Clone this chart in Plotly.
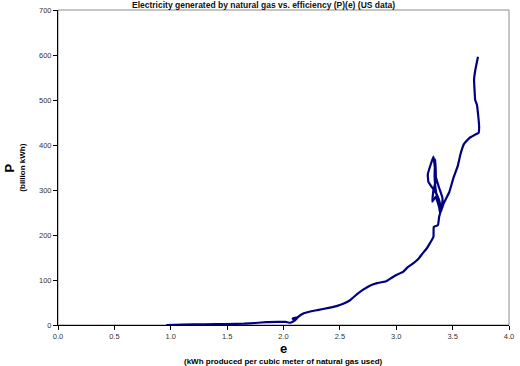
import plotly.graph_objects as go

# Efficiency of gas-fired generation (kWh per cubic meter) and generation (billion kWh), in time order
e_vals = [0.96, 1.10, 1.30, 1.50, 1.65, 1.75, 1.85, 1.95, 2.02, 2.06, 2.10, 2.08, 2.12, 2.10,
          2.13, 2.18, 2.23, 2.30, 2.40, 2.47, 2.53, 2.59, 2.65, 2.71, 2.77, 2.83, 2.91, 2.96,
          3.00, 3.06, 3.10, 3.15, 3.20, 3.23, 3.27, 3.29, 3.33, 3.333, 3.37, 3.38,
          3.40, 3.41, 3.38, 3.35, 3.34, 3.33, 3.31, 3.28, 3.285, 3.32, 3.36, 3.39, 3.395,
          3.37, 3.35, 3.34, 3.345, 3.35, 3.35, 3.33, 3.32, 3.35, 3.38, 3.39,
          3.42, 3.47, 3.51, 3.545, 3.57, 3.60, 3.65, 3.70, 3.73, 3.735, 3.725, 3.715, 3.70,
          3.695, 3.69, 3.70, 3.725]
p_vals = [0, 1, 1.5, 2, 3, 4.5, 6.5, 7, 7, 5, 10, 14, 17, 10,
          18, 26, 29.5, 33, 38, 42, 47, 55, 68, 79, 88, 93, 97, 105,
          111, 118, 128, 137, 148, 158, 170, 178, 196, 218, 222, 240,
          258, 282, 305, 330, 355, 374, 360, 335, 318, 305, 290, 268, 252,
          275, 300, 330, 368, 345, 320, 300, 274, 285, 262, 248,
          270, 295, 329, 353, 380, 402, 416, 423, 427, 440, 470, 490, 500,
          520, 545, 565, 596]

x_ticks = [0.0, 0.5, 1.0, 1.5, 2.0, 2.5, 3.0, 3.5, 4.0]
y_ticks = [0, 100, 200, 300, 400, 500, 600, 700]

FONT = "Liberation Sans, Arial, sans-serif"

fig = go.Figure()
fig.add_trace(go.Scatter(
    x=e_vals, y=p_vals, mode="lines",
    line=dict(color="#000080", width=2.2, shape="spline", smoothing=0.3),
    hoverinfo="skip", showlegend=False,
))

fig.update_layout(
    width=520, height=366,
    margin=dict(l=58, r=6, t=10, b=41),
    paper_bgcolor="white", plot_bgcolor="white",
    font=dict(family=FONT, color="#222"),
    xaxis=dict(
        range=[0, 4], tickvals=x_ticks, ticktext=[f"{v:.1f}" for v in x_ticks],
        showgrid=False, zeroline=False, showline=True, linecolor="black", linewidth=1,
        ticks="outside", ticklen=4, tickcolor="black", tickfont=dict(size=7.5, family=FONT, color="#333"),
    ),
    yaxis=dict(
        range=[0, 700], tickvals=y_ticks,
        showgrid=False, zeroline=False, showline=True, linecolor="black", linewidth=1,
        ticks="outside", ticklen=4, tickcolor="black", tickfont=dict(size=7.5, family=FONT, color="#333"),
    ),
    shapes=[dict(type="rect", xref="paper", yref="paper", x0=0, x1=1, y0=0, y1=1,
                 line=dict(color="#8c8c8c", width=1), layer="below")],
    annotations=[
        dict(text="<b>Electricity generated by natural gas vs. efficiency (P)(e) (US data)</b>",
             xref="paper", yref="paper", x=0.455, y=1.0, yshift=5, showarrow=False,
             xanchor="center", yanchor="middle", font=dict(size=8.5, family=FONT, color="#111")),
        dict(text="<b>e</b>", xref="paper", yref="paper", x=0.5, y=-0.075, showarrow=False,
             xanchor="center", yanchor="middle", font=dict(size=13, family=FONT, color="black")),
        dict(text="<b>(kWh produced per cubic meter of natural gas used)</b>", xref="paper", yref="paper",
             x=0.5, y=-0.115, showarrow=False, xanchor="center", yanchor="middle",
             font=dict(size=8, family=FONT, color="black")),
        dict(text="<b>P</b>", xref="paper", yref="paper", x=-0.1, y=0.5, showarrow=False,
             textangle=-90, xanchor="center", yanchor="middle", xshift=-3,
             font=dict(size=13, family=FONT, color="black")),
        dict(text="<b>(billion kWh)</b>", xref="paper", yref="paper", x=-0.075, y=0.5, showarrow=False,
             textangle=-90, xanchor="center", yanchor="middle", xshift=-2,
             font=dict(size=8, family=FONT, color="black")),
    ],
)

fig.write_html("out.html")
